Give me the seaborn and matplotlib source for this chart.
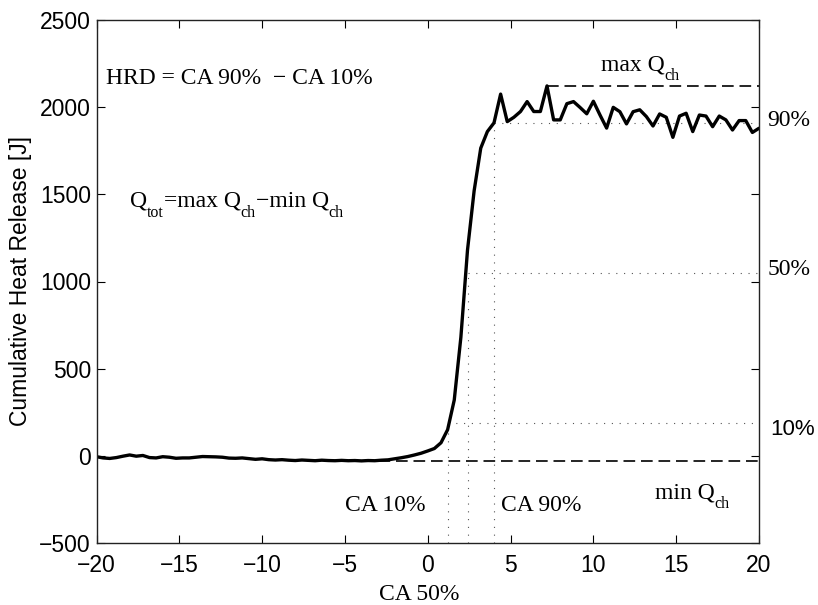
import numpy as np
import pandas as pd
import matplotlib
matplotlib.use("Agg")
import matplotlib.pyplot as plt
import seaborn as sns

# crank angle [deg] and cumulative heat release [J]
ca = np.round(np.arange(-20.0, 20.01, 0.4), 1)
q = [
    -5, -12, -15, -10, -2, 5, -2, 2, -10, -12,
    -5, -8, -14, -12, -12, -8, -4, -5, -6, -8,
    -13, -14, -12, -16, -20, -17, -22, -24, -22, -25,
    -27, -24, -26, -28, -25, -27, -28, -26, -28, -27,
    -29, -27, -28, -25, -23, -17, -11, -4, 5, 15,
    28, 42, 75, 150, 320, 680, 1180, 1520, 1765, 1860,
    1910, 2075, 1917, 1942, 1975, 2032, 1975, 1975, 2122, 1927,
    1927, 2020, 2032, 1998, 1962, 2034, 1955, 1880, 1999, 1974,
    1904, 1974, 1985, 1946, 1892, 1961, 1942, 1827, 1949, 1965,
    1860, 1955, 1949, 1888, 1949, 1927, 1869, 1923, 1923, 1855,
    1879,
]

# burn fractions and the crank angles where they are reached
fractions = [0.10, 0.50, 0.90]
ca_marks = [1.24, 2.41, 4.02]

df = pd.DataFrame({"ca": ca, "q": q})

sns.set_theme(style="ticks")
plt.rcParams["font.family"] = ["Liberation Sans", "DejaVu Sans"]

fig = plt.figure(figsize=(8.18, 6.05), dpi=100)
ax = fig.add_axes([96.5 / 818, 62 / 605, 662.5 / 818, 523 / 605])

q_max = df["q"].max()
q_min = df["q"].min()
x_max = df.loc[df["q"].idxmax(), "ca"]
x_min = df.loc[df["q"].idxmin(), "ca"]
q_tot = q_max - q_min
levels = [q_min + f * q_tot for f in fractions]

# helper lines
dot = dict(color="#555555", lw=0.8, dashes=(1, 6))
for c, lev in zip(ca_marks, levels):
    ax.plot([c, c], [-500, lev], **dot)
    ax.plot([c, 20], [lev, lev], **dot)

dash = dict(color="black", lw=1.2, dashes=(7, 3.5))
ax.plot([x_max, 20], [q_max, q_max], **dash)
ax.plot([x_min, 20], [q_min, q_min], **dash)

sns.lineplot(data=df, x="ca", y="q", color="black", linewidth=2.4, ax=ax)

ax.set_xlim(-20, 20)
ax.set_ylim(-500, 2500)
ax.set_xticks(np.arange(-20, 21, 5))
ax.set_yticks(np.arange(-500, 2501, 500))
ax.tick_params(direction="in", top=True, right=True, length=6, width=0.8,
               labelsize=16.5, colors="black")
ax.tick_params(axis="x", pad=8)
ax.tick_params(axis="y", pad=4)
for s in ax.spines.values():
    s.set_color("#222222")
    s.set_linewidth(1.0)

ax.set_xlabel("")
ax.set_ylabel("Cumulative Heat Release [J]", fontsize=16.5, labelpad=5,
              color="black")

SERIF = "Liberation Serif"
serif = dict(family=SERIF, fontsize=17, color="black")
minus = "\u2212"
renderer = fig.canvas.get_renderer()


def rich_text(x, y, parts, size=17, sub_size=11.5, drop=10):
    # write text pieces one after another, subscripts dropped below baseline
    px, py = ax.transData.transform((x, y))
    for s, is_sub in parts:
        yy = py - drop if is_sub else py
        tx, ty = ax.transData.inverted().transform((px, yy))
        t = ax.text(tx, ty, s, va="baseline", family=SERIF, color="black",
                    fontsize=sub_size if is_sub else size)
        px = t.get_window_extent(renderer).x1


ax.text(-19.4, 2133, "HRD = CA 90%  " + minus + " CA 10%", va="baseline", **serif)
rich_text(-18.0, 1428, [("Q", False), ("tot", True), ("=max Q", False),
                        ("ch", True), (minus + "min Q", False), ("ch", True)])
rich_text(10.44, 2213, [("max Q", False), ("ch", True)])
rich_text(13.72, -243, [("min Q", False), ("ch", True)])
ax.text(-5.0, -314, "CA 10%", va="baseline", **serif)
ax.text(4.4, -314, "CA 90%", va="baseline", **serif)
ax.text(-0.53, -826, "CA 50%", va="baseline", ha="center", **serif)
ax.text(20.5, levels[2] - 16, "90%", va="baseline", **serif)
ax.text(20.53, levels[1] - 9, "50%", va="baseline", **serif)
ax.text(20.7, 120, "10%", va="baseline", fontsize=16, color="black")

fig.savefig("out.png", dpi=100)
